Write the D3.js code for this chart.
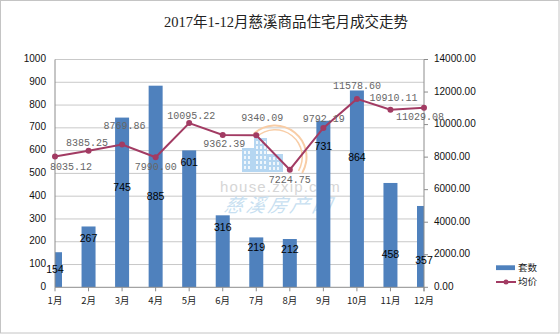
<!DOCTYPE html>
<html><head><meta charset="utf-8">
<script src="https://cdn.jsdelivr.net/npm/d3@7/dist/d3.min.js"></script>
<style>body{margin:0;background:#fff}svg{display:block}</style>
</head><body>
<svg id="c" width="560" height="334"></svg>
<script>
const title = "2017年1-12月慈溪商品住宅月成交走势";
const months = ["1月","2月","3月","4月","5月","6月","7月","8月","9月","10月","11月","12月"];
const units = [154,267,745,885,601,316,219,212,731,864,458,357];
const prices = [8035.12,8385.25,8769.86,7990.00,10095.22,9362.39,9340.09,7224.75,9792.19,11578.60,10910.11,11029.08];
const leftTicks = [0,100,200,300,400,500,600,700,800,900,1000];
const rightTicks = [0,2000,4000,6000,8000,10000,12000,14000];
const seriesNames = ["套数","均价"];

// label placement (as drawn in the reference)
const barLabelAt = [76,212,435,396,544,261,173,164,616,566,139,115];
const priceLabelOff = [[16,11],[-1.5,-8],[2.5,-18.5],[0,10],[2,-7],[1.5,9],[6,-17],[0,11],[0.5,-9],[0,-13],[3,-11],[-4,10]];

const svg = d3.select("#c");
const L = 55, R = 424, T = 59.5, B = 287.3;
const barColor = "#4F81BD", lineColor = "#A23B63";
const sans = "'Liberation Sans', Arial, 'Noto Sans CJK SC', sans-serif";

svg.append("rect").attr("x",0.5).attr("y",0.5).attr("width",558.5).attr("height",332.5)
  .attr("fill","#fff").attr("stroke","#c4c4c4");

svg.append("text").attr("x",286).attr("y",24).attr("text-anchor","middle").attr("dominant-baseline","middle")
  .attr("font-family","'Liberation Serif','Noto Sans CJK SC',serif").attr("font-size",14.5).attr("fill","#222")
  .text(title);

const x = d3.scalePoint().domain(months).range([L,R]);
const yL = d3.scaleLinear().domain([0,1000]).range([B,T]);
const yR = d3.scaleLinear().domain([0,14000]).range([B,T]);

// gridlines
svg.append("g").selectAll("line").data(leftTicks.filter(d=>d>0)).join("line")
  .attr("x1",L).attr("x2",R).attr("y1",d=>yL(d)).attr("y2",d=>yL(d))
  .attr("stroke","#c9c9c9").attr("stroke-width",1);

// watermark
const wm = svg.append("g");
const arc = d3.arc();
[[30.5,32.5],[26.5,28]].forEach(([r0,r1])=>{
  wm.append("path").attr("transform","translate(275,157)")
    .attr("d",arc({innerRadius:r0,outerRadius:r1,startAngle:-0.75,endAngle:2.1}))
    .attr("fill","#F8CDA6");
});
const bld = [[242,148,12,24],[254,138,13,34],[267,154,16,18]];
bld.forEach(b=>{
  wm.append("rect").attr("x",b[0]).attr("y",b[1]).attr("width",b[2]).attr("height",b[3]).attr("fill","#B5D6F1");
  for(let wx=b[0]+2; wx<b[0]+b[2]-2; wx+=4){
    for(let wy=b[1]+3; wy<b[1]+b[3]-3; wy+=5){
      wm.append("rect").attr("x",wx).attr("y",wy).attr("width",2).attr("height",3).attr("fill","#ffffff").attr("opacity",0.8);
    }
  }
});
wm.append("text").attr("x",220).attr("y",192).attr("font-family",sans).attr("font-size",15)
  .attr("letter-spacing",1.2).attr("fill","#d6d6d6").text("house.zxip.com");
wm.append("text").attr("x",224).attr("y",212).attr("font-family","'Noto Sans CJK SC',sans-serif").attr("font-size",19)
  .attr("letter-spacing",3).attr("font-style","italic").attr("fill","#C8DFF1")
  .attr("transform","skewX(-12) translate(44,0)").text("慈溪房产网");

// bars
svg.append("clipPath").attr("id","pc").append("rect").attr("x",L).attr("y",0).attr("width",R-L).attr("height",B);
const bw = 14;
svg.append("g").attr("clip-path","url(#pc)").selectAll("rect").data(units).join("rect")
  .attr("x",(d,i)=>x(months[i])-bw/2).attr("y",d=>yL(d)).attr("width",bw).attr("height",d=>B-yL(d))
  .attr("fill",barColor);

// axes lines
const axc = "#8c8c8c";
svg.append("line").attr("x1",L).attr("x2",L).attr("y1",T).attr("y2",B).attr("stroke",axc);
svg.append("line").attr("x1",R).attr("x2",R).attr("y1",T).attr("y2",B+4).attr("stroke",axc);
svg.append("line").attr("x1",L).attr("x2",R).attr("y1",B).attr("y2",B).attr("stroke",axc);
svg.append("g").selectAll("line").data(months).join("line")
  .attr("x1",d=>x(d)).attr("x2",d=>x(d)).attr("y1",B).attr("y2",B+4).attr("stroke",axc);
svg.append("g").selectAll("line").data(rightTicks).join("line")
  .attr("x1",R).attr("x2",R+4).attr("y1",d=>yR(d)).attr("y2",d=>yR(d)).attr("stroke",axc);

// tick labels
svg.append("g").selectAll("text").data(leftTicks).join("text")
  .attr("x",46).attr("y",d=>yL(d)).attr("text-anchor","end").attr("dominant-baseline","middle")
  .attr("font-family",sans).attr("font-size",10).attr("fill","#111").text(d=>d);
svg.append("g").selectAll("text").data(rightTicks).join("text")
  .attr("x",434).attr("y",d=>yR(d)).attr("dominant-baseline","middle")
  .attr("font-family",sans).attr("font-size",10).attr("fill","#111").text(d=>d.toFixed(2));
svg.append("g").selectAll("text").data(months).join("text")
  .attr("x",d=>x(d)).attr("y",301).attr("text-anchor","middle").attr("dominant-baseline","middle")
  .attr("font-family","'Noto Sans CJK SC',sans-serif").attr("font-size",9.5).attr("fill","#222").text(d=>d);

// bar labels
svg.append("g").selectAll("text").data(units).join("text")
  .attr("x",(d,i)=>x(months[i])).attr("y",(d,i)=>yL(barLabelAt[i])).attr("text-anchor","middle")
  .attr("dominant-baseline","middle").attr("font-family",sans).attr("font-size",10.5).attr("fill","#000")
  .text(d=>d);

// line
const line = d3.line().x((d,i)=>x(months[i])).y(d=>yR(d));
svg.append("path").datum(prices).attr("d",line).attr("fill","none").attr("stroke",lineColor).attr("stroke-width",2);
svg.append("g").selectAll("circle").data(prices).join("circle")
  .attr("cx",(d,i)=>x(months[i])).attr("cy",d=>yR(d)).attr("r",3).attr("fill",lineColor);

// line labels
svg.append("g").selectAll("text").data(prices).join("text")
  .attr("x",(d,i)=>x(months[i])+priceLabelOff[i][0]).attr("y",(d,i)=>yR(d)+priceLabelOff[i][1])
  .attr("text-anchor","middle").attr("dominant-baseline","middle")
  .attr("font-family","'Liberation Mono','DejaVu Sans Mono',monospace").attr("font-size",10).attr("fill","#666")
  .text(d=>d.toFixed(2));

// legend
svg.append("rect").attr("x",496).attr("y",265.3).attr("width",19).attr("height",4.8).attr("fill",barColor);
svg.append("line").attr("x1",496).attr("x2",516).attr("y1",282).attr("y2",282).attr("stroke",lineColor).attr("stroke-width",2);
svg.append("circle").attr("cx",506).attr("cy",282).attr("r",2.5).attr("fill",lineColor);
svg.append("g").selectAll("text").data(seriesNames).join("text")
  .attr("x",518).attr("y",(d,i)=>i?282:268).attr("dominant-baseline","middle")
  .attr("font-family","'Noto Sans CJK SC',sans-serif").attr("font-size",9.5).attr("fill","#222").text(d=>d);
</script>
</body></html>
